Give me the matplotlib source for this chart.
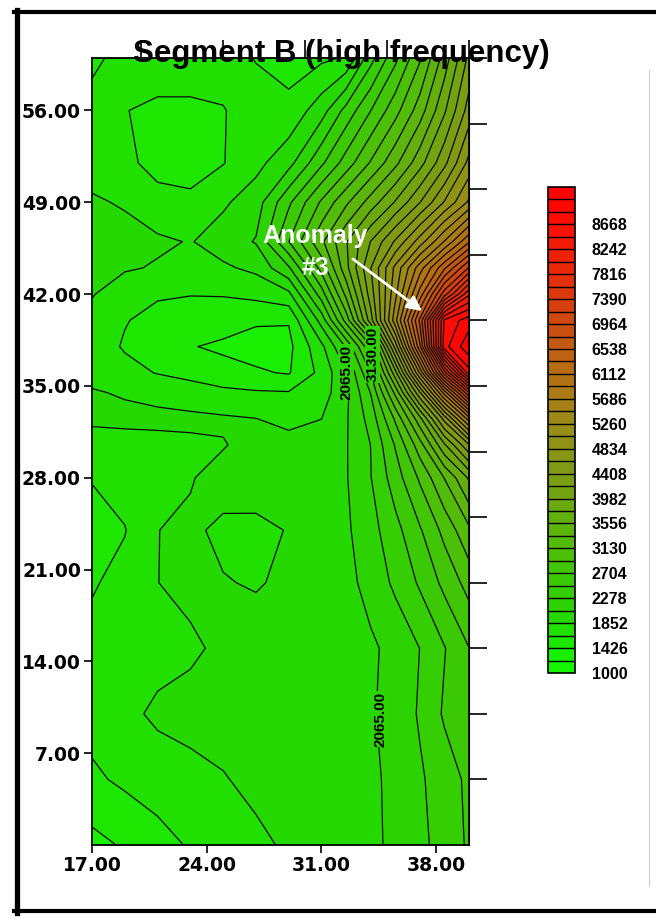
import numpy as np
import matplotlib
matplotlib.use("Agg")
import matplotlib.pyplot as plt
from matplotlib.colors import LinearSegmentedColormap
from matplotlib.lines import Line2D

# ---------------- data ----------------
title = "Segment B (high frequency)"
x_nodes = [17, 19, 21, 23, 25, 27, 29, 31, 32.5, 34, 35.5, 37, 38.5, 40]
y_nodes = [0, 5, 10, 15, 20, 24, 28, 30.5, 32.5, 34.5, 36, 38, 40, 42, 44, 46, 49, 52, 56, 60]

row_y00 = [1360, 1450, 1560, 1660, 1740, 1810, 1880, 1940, 1980, 2030, 2100, 2220, 2370, 2520]
row_y05 = [1600, 1680, 1740, 1790, 1840, 1900, 1930, 1950, 1980, 2030, 2110, 2250, 2380, 2540]
row_y10 = [1720, 1800, 1890, 1920, 1930, 1940, 1950, 1960, 1990, 2040, 2150, 2300, 2520, 2680]
row_y15 = [1700, 1740, 1780, 1820, 1890, 1920, 1940, 1960, 1990, 2030, 2130, 2280, 2480, 2700]
row_y20 = [1620, 1700, 1850, 1900, 1860, 1840, 1880, 1940, 2000, 2140, 2320, 2520, 2760, 3000]
row_y24 = [1560, 1630, 1850, 1880, 1820, 1810, 1860, 1960, 2030, 2200, 2420, 2680, 2980, 3300]
row_y28 = [1650, 1720, 1780, 1840, 1920, 1940, 1950, 1990, 2050, 2270, 2600, 2950, 3350, 3800]
row_y30 = [1740, 1760, 1780, 1810, 1840, 1920, 1930, 1950, 2050, 2280, 2720, 3250, 3950, 4600]
row_y32 = [1900, 1910, 1910, 1900, 1880, 1855, 1790, 1850, 2040, 2360, 2950, 3700, 4700, 5800]
row_y34 = [1870, 1830, 1780, 1730, 1680, 1660, 1650, 1750, 2010, 2500, 3400, 4600, 6000, 7400]
row_y36 = [1780, 1700, 1630, 1580, 1520, 1450, 1410, 1700, 2050, 2700, 3900, 5500, 7300, 8800]
row_y38 = [1740, 1620, 1530, 1440, 1380, 1350, 1370, 1800, 2300, 3100, 4700, 6500, 8800, 9250]
row_y40 = [1760, 1650, 1580, 1560, 1540, 1450, 1440, 2150, 3000, 4100, 5400, 6800, 8700, 9000]
row_y42 = [1870, 1700, 1660, 1645, 1650, 1700, 1800, 2600, 3400, 4300, 5200, 6200, 7300, 8200]
row_y44 = [1920, 1880, 1830, 1760, 1820, 1900, 2250, 3000, 3700, 4400, 5100, 5800, 6500, 7200]
row_y46 = [1950, 1930, 1890, 1840, 1950, 2080, 2700, 3300, 3750, 4200, 4650, 5150, 5700, 6300]
row_y49 = [1880, 1830, 1700, 1680, 1820, 1960, 2450, 2950, 3300, 3650, 4000, 4400, 4850, 5300]
row_y52 = [1760, 1680, 1580, 1560, 1630, 1790, 1990, 2450, 2800, 3150, 3500, 3900, 4350, 4900]
row_y56 = [1700, 1645, 1600, 1600, 1630, 1720, 1700, 1970, 2350, 2700, 3050, 3450, 3950, 4500]
row_y60 = [1600, 1700, 1750, 1750, 1720, 1630, 1550, 1600, 1660, 2200, 2650, 3100, 3650, 4250]

level_start = 1000
level_step = 213
n_levels = 40
cbar_ticks = [1000, 1426, 1852, 2278, 2704, 3130, 3556, 3982, 4408, 4834,
              5260, 5686, 6112, 6538, 6964, 7390, 7816, 8242, 8668]
x_ticks = [17, 24, 31, 38]
y_ticks = [7, 14, 21, 28, 35, 42, 49, 56]
top_ticks = [20, 25, 30, 35, 40]
right_ticks = [5, 10, 15, 20, 25, 30, 35, 40, 45, 50, 55, 60]
contour_labels = ["2065.00", "3130.00", "2065.00"]
contour_label_x = [32.5, 34.1, 34.6]
contour_label_y = [36.0, 37.4, 9.6]

# colour ramp anchors (value, colour)
ramp_values = [1000, 2000, 3130, 4408, 5260, 6112, 6964, 7816, 8668, 9307]
ramp_colors = ["#14fa00", "#26d600", "#50be0a", "#7d9b14", "#9a8c18",
               "#b47014", "#cc4c10", "#e62c0a", "#fa1006", "#ff0000"]

# ---------------- figure ----------------
W, H = 656, 922
fig = plt.figure(figsize=(W / 100, H / 100), dpi=100)
fig.patch.set_facecolor("white")

def fx(px):
    return px / W

def fy(py):
    return 1 - py / H

ax = fig.add_axes([fx(92), fy(845), fx(469) - fx(92), fy(58) - fy(845)])

X, Y = np.meshgrid(np.array(x_nodes), np.array(y_nodes))
Z = np.array([row_y00, row_y05, row_y10, row_y15, row_y20, row_y24, row_y28,
              row_y30, row_y32, row_y34, row_y36, row_y38, row_y40, row_y42,
              row_y44, row_y46, row_y49, row_y52, row_y56, row_y60], dtype=float)

levels = [level_start + level_step * k for k in range(n_levels)]
vmin, vmax = levels[0], levels[-1]
cmap = LinearSegmentedColormap.from_list(
    "seg", [((v - vmin) / (vmax - vmin), c) for v, c in zip(ramp_values, ramp_colors)])

cf = ax.contourf(X, Y, Z, levels=levels, cmap=cmap, vmin=vmin, vmax=vmax)
cs = ax.contour(X, Y, Z, levels=levels, colors="#0a0a0a", linewidths=0.9)

for txt, lx, ly in zip(contour_labels, contour_label_x, contour_label_y):
    ax.text(lx, ly, txt, rotation=90, ha="center", va="center", fontsize=11,
            fontweight="bold", family="Liberation Sans", color="black",
            bbox=dict(boxstyle="square,pad=0.05", fc="#2ed400", ec="none"),
            zorder=5)

ax.set_xlim(17, 40)
ax.set_ylim(0, 60)
ax.set_xticks(x_ticks)
ax.set_xticklabels([f"{v:.2f}" for v in x_ticks])
ax.set_yticks(y_ticks)
ax.set_yticklabels([f"{v:.2f}" for v in y_ticks])
ax.tick_params(direction="out", length=6, width=1.2, labelsize=13.5,
               pad=2, colors="black")
for lab in ax.get_xticklabels() + ax.get_yticklabels():
    lab.set_fontweight("bold")
    lab.set_fontfamily("DejaVu Sans")
for sp in ax.spines.values():
    sp.set_linewidth(1.3)

secx = ax.secondary_xaxis("top")
secx.set_xticks(top_ticks)
secx.set_xticklabels([])
secx.tick_params(direction="out", length=13, width=1.2)
secy = ax.secondary_yaxis("right")
secy.set_yticks(right_ticks)
secy.set_yticklabels([])
secy.tick_params(direction="out", length=13, width=1.2)

# colour bar
cax = fig.add_axes([fx(548), fy(673), fx(575) - fx(548), fy(187) - fy(673)])
cb = fig.colorbar(cf, cax=cax, ticks=cbar_ticks, drawedges=True)
cb.dividers.set_color("black")
cb.dividers.set_linewidth(1.0)
cb.outline.set_linewidth(1.2)
cax.tick_params(length=0, pad=12)
cax.set_yticklabels([str(v) for v in cbar_ticks])
for lab in cax.get_yticklabels():
    lab.set_fontweight("bold")
    lab.set_fontfamily("Liberation Sans")
    lab.set_fontsize(11.5)

# title
fig.text(fx(341), fy(62), title, ha="center", va="baseline", fontsize=22.5,
         fontweight="bold", family="Liberation Sans", zorder=10)

# annotation
fig.text(fx(315), fy(243), "Anomaly", ha="center", va="baseline", fontsize=18,
         fontweight="bold", family="Liberation Sans", color="white", zorder=10)
fig.text(fx(316), fy(275), "#3", ha="center", va="baseline", fontsize=18,
         fontweight="bold", family="Liberation Sans", color="white", zorder=10)
ax.annotate("", xy=(422, H - 311), xycoords="figure pixels",
            xytext=(353, H - 259), textcoords="figure pixels",
            arrowprops=dict(arrowstyle="-|>", color="white", lw=2,
                            mutation_scale=22, shrinkA=0, shrinkB=0),
            zorder=10)

# outer black frame and faint right rule
frame_kw = dict(color="black", transform=fig.transFigure, zorder=20)
fig.add_artist(Line2D([fx(16.5), fx(16.5)], [fy(10), fy(913)], lw=3.8, **frame_kw))
fig.add_artist(Line2D([fx(14), fx(656)], [fy(12), fy(12)], lw=3.0, **frame_kw))
fig.add_artist(Line2D([fx(14), fx(656)], [fy(911), fy(911)], lw=3.0, **frame_kw))
fig.add_artist(Line2D([fx(649), fx(649)], [fy(70), fy(886)], lw=0.8,
                      color="#cccccc", transform=fig.transFigure))

fig.savefig("out.png", dpi=100)
